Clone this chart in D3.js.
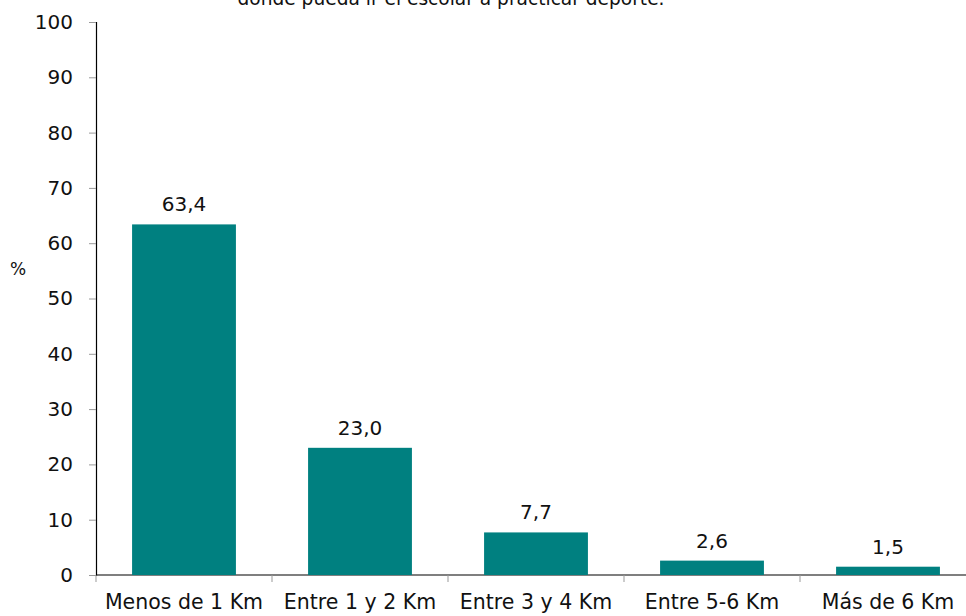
<!DOCTYPE html>
<html>
<head>
<meta charset="utf-8">
<script src="https://cdn.jsdelivr.net/npm/d3@7"></script>
<style>
body { margin: 0; background: #fff; }
svg text { font-family: "DejaVu Sans", sans-serif; fill: #111; }
</style>
</head>
<body>
<div id="chart"></div>
<script>
const categories = ["Menos de 1 Km", "Entre 1 y 2 Km", "Entre 3 y 4 Km", "Entre 5-6 Km", "Más de 6 Km"];
const values = [63.4, 23.0, 7.7, 2.6, 1.5];
const yTicks = [0, 10, 20, 30, 40, 50, 60, 70, 80, 90, 100];
const titleText = "donde pueda ir el escolar a practicar deporte.";

const margin = {top: 22, right: -10, bottom: 41, left: 96},
    width = 966 - margin.left - margin.right,
    height = 616 - margin.top - margin.bottom;

const svg = d3.select("#chart")
    .append("svg")
    .attr("width", 966)
    .attr("height", 616);

const g = svg.append("g")
    .attr("transform", "translate(" + margin.left + "," + margin.top + ")");

const x = d3.scaleBand()
    .domain(categories)
    .range([0, width])
    .paddingInner(0.41)
    .paddingOuter(0.205);
const y = d3.scaleLinear()
    .domain([0, 100])
    .range([height, 0]);

// title (only its last line shows at the top edge)
svg.append("text")
    .attr("x", 451)
    .attr("y", 5)
    .attr("text-anchor", "middle")
    .style("font-size", "18.6px")
    .text(titleText);

// y axis
const yAxis = g.append("g")
    .call(d3.axisLeft(y).tickValues(yTicks).tickSize(7).tickPadding(16));
yAxis.select(".domain").attr("stroke", "#000").attr("stroke-width", 1.2);
yAxis.selectAll(".tick line").attr("stroke", "#999");
yAxis.selectAll(".tick text")
    .style("font-size", "20px")
    .style("font-family", "'DejaVu Sans', sans-serif")
    .attr("fill", "#111");

// x axis
const step = x.step();
const x0 = x(categories[0]) - step * x.paddingOuter();
const xAxis = g.append("g")
    .attr("transform", "translate(0," + height + ")");
xAxis.append("line")
    .attr("x1", 0).attr("x2", width)
    .attr("stroke", "#000").attr("stroke-width", 1.2);
xAxis.selectAll(".sep")
    .data(d3.range(categories.length + 1))
    .enter().append("line")
    .attr("x1", d => x0 + d * step)
    .attr("x2", d => x0 + d * step)
    .attr("y1", 0).attr("y2", 7)
    .attr("stroke", "#999");
xAxis.selectAll(".cat")
    .data(categories)
    .enter().append("text")
    .attr("x", d => x(d) + x.bandwidth() / 2)
    .attr("y", 34)
    .attr("text-anchor", "middle")
    .style("font-size", "20.5px")
    .text(d => d);

// bars
const data = categories.map((c, i) => ({name: c, value: values[i]}));
g.selectAll(".bar")
    .data(data)
    .enter().append("rect")
    .attr("class", "bar")
    .attr("x", d => x(d.name))
    .attr("width", x.bandwidth())
    .attr("y", d => y(d.value))
    .attr("height", d => height - y(d.value))
    .style("fill", "#008080");

g.selectAll(".lbl")
    .data(data)
    .enter().append("text")
    .attr("x", d => x(d.name) + x.bandwidth() / 2)
    .attr("y", d => y(d.value) - 13)
    .attr("text-anchor", "middle")
    .style("font-size", "20px")
    .text(d => d.value.toFixed(1).replace(".", ","));

// y label
svg.append("text")
    .attr("x", 18)
    .attr("y", 275)
    .attr("text-anchor", "middle")
    .style("font-size", "17px")
    .text("%");
</script>
</body>
</html>
